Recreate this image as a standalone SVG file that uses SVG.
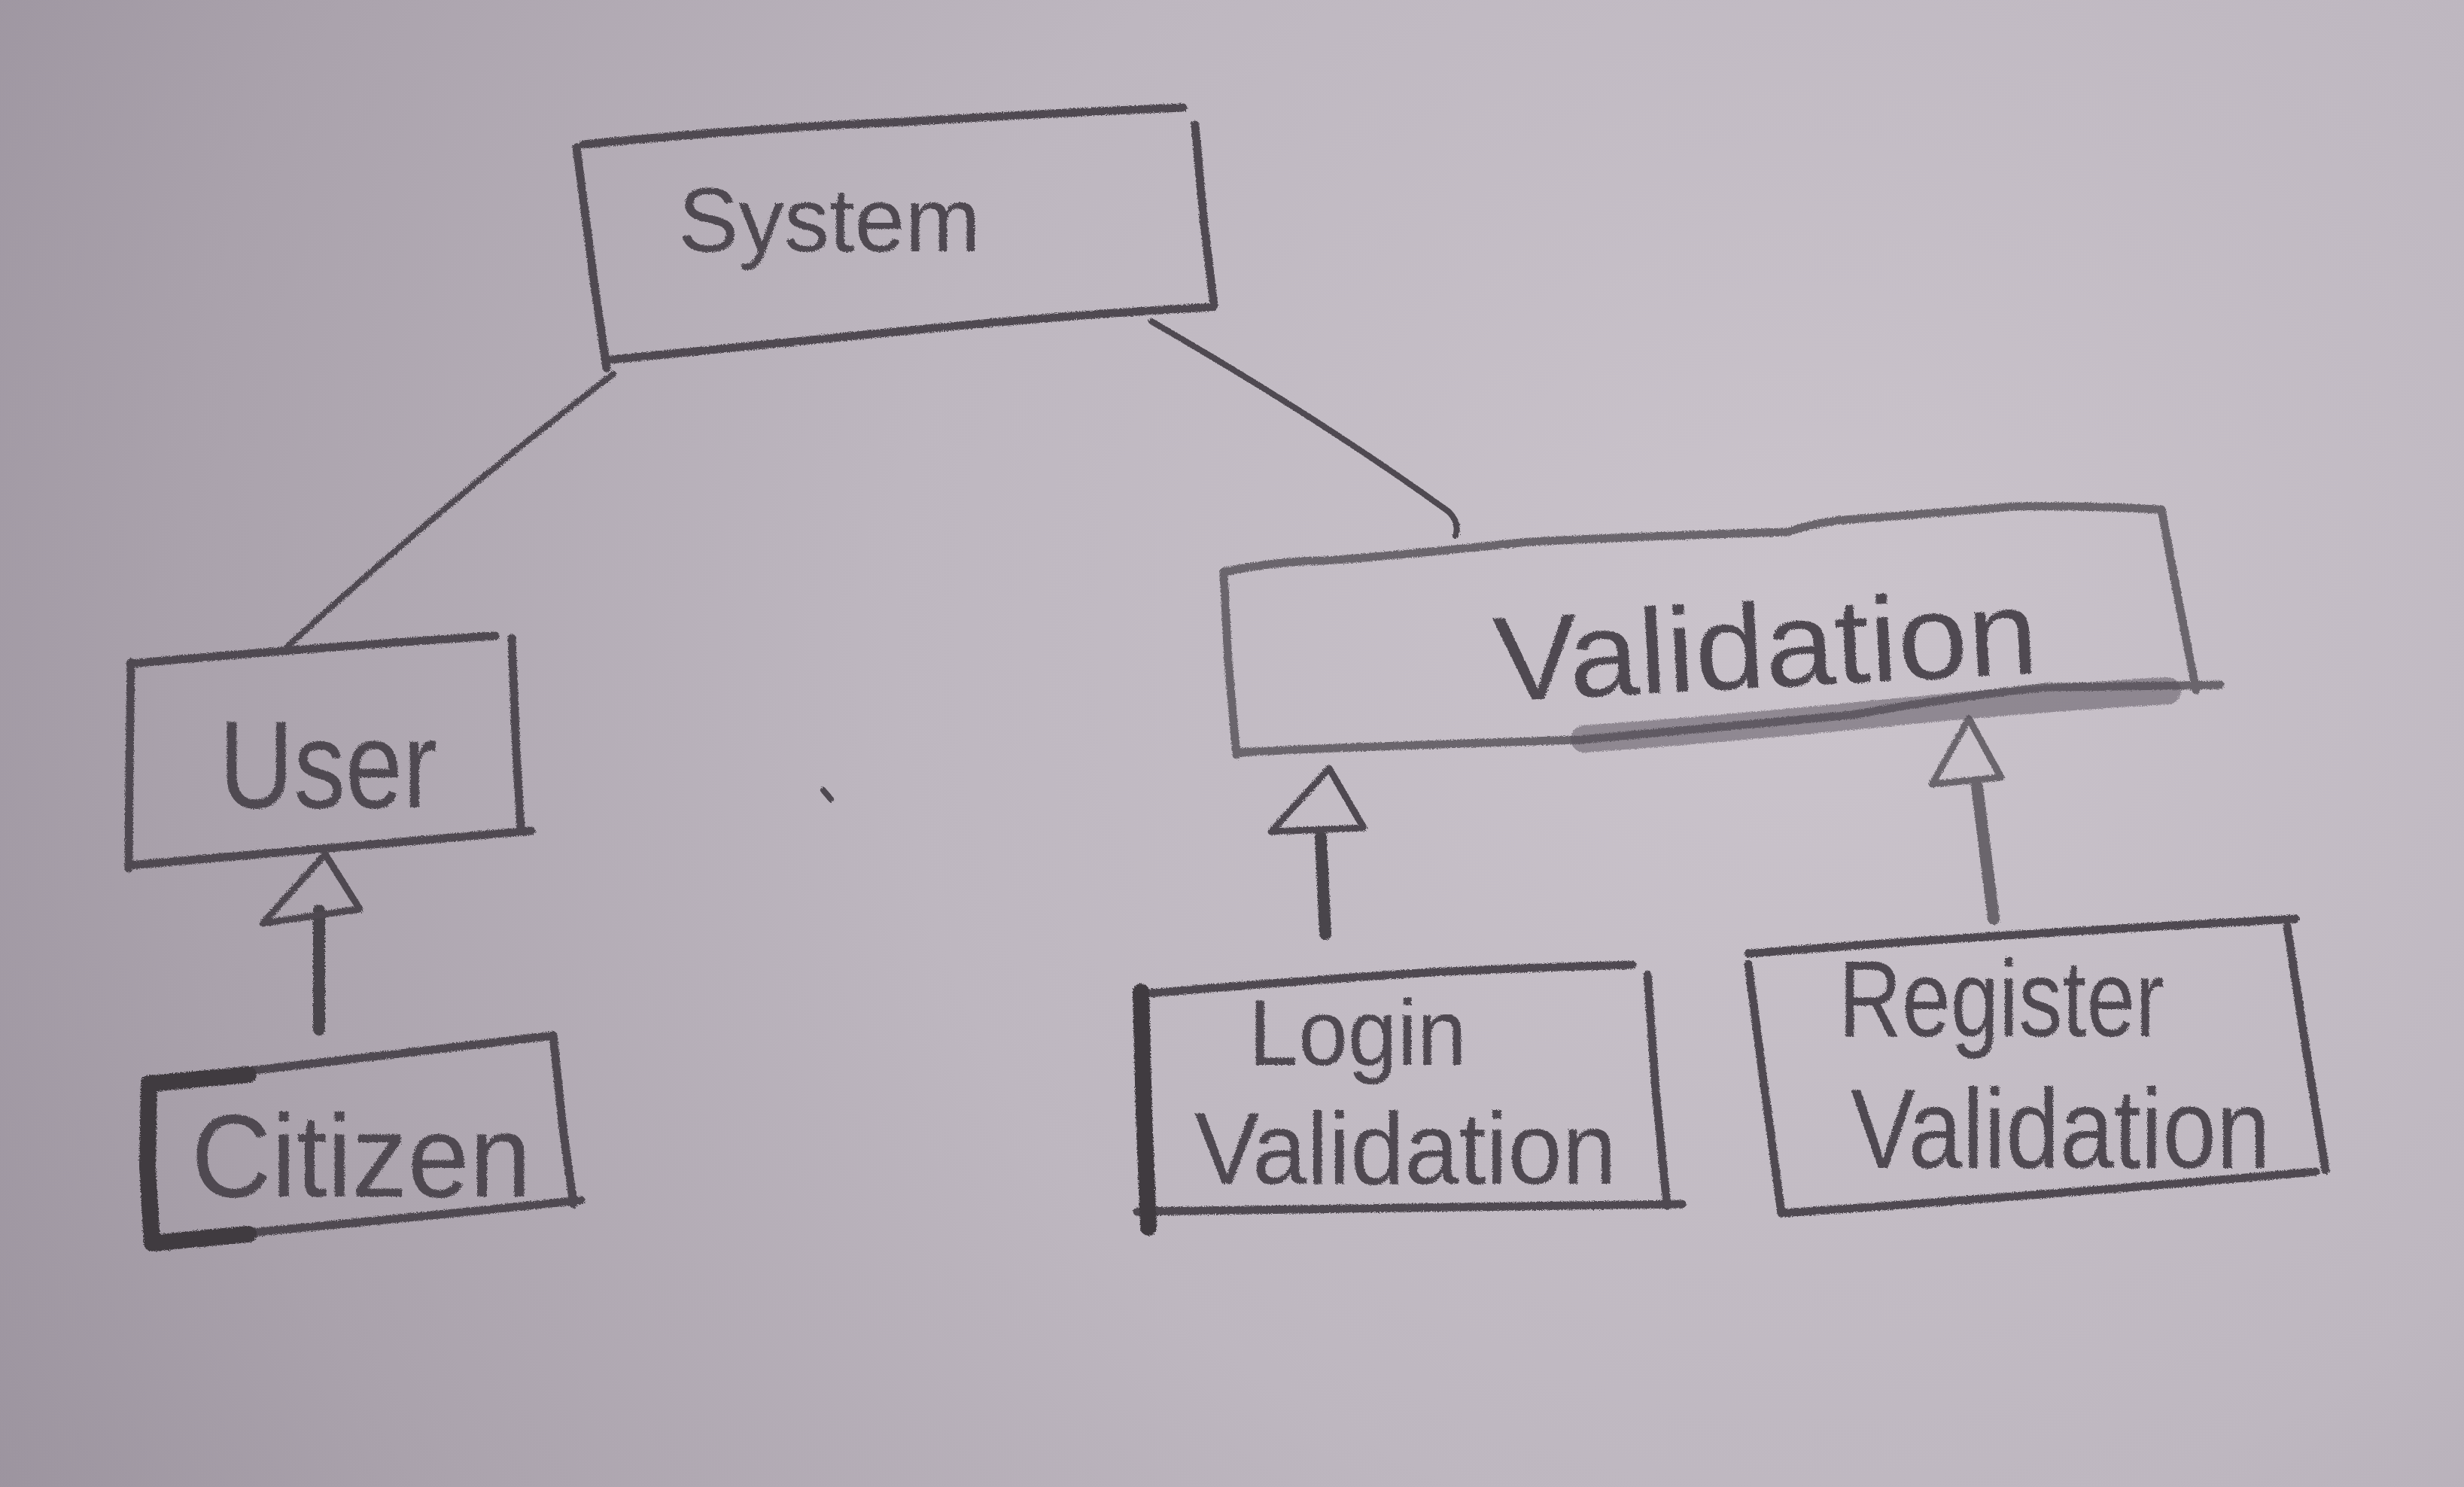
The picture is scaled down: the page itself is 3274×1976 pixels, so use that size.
<svg xmlns="http://www.w3.org/2000/svg" width="3274" height="1976" viewBox="0 0 3274 1976">
<defs>
<radialGradient id="paper" cx="2400" cy="850" r="2700" gradientUnits="userSpaceOnUse">
<stop offset="0" stop-color="#cbc4cc"/>
<stop offset="0.45" stop-color="#beb7c0"/>
<stop offset="0.8" stop-color="#aaa2ac"/>
<stop offset="1" stop-color="#9b939e"/>
</radialGradient>
<filter id="pencil" x="-5%" y="-5%" width="110%" height="110%">
<feTurbulence type="fractalNoise" baseFrequency="0.6" numOctaves="2" seed="3" result="n"/>
<feDisplacementMap in="SourceGraphic" in2="n" scale="5"/>
</filter>
</defs>
<style>
.edge{fill:none;stroke:#4f4a51;stroke-width:11;stroke-linecap:round;stroke-linejoin:round}
.thick{stroke-width:22;stroke:#3f3a41}
.conn{fill:none;stroke:#4f4a51;stroke-width:8;stroke-linecap:round;stroke-linejoin:round}
.shaft{fill:none;stroke:#4a454c;stroke-width:16;stroke-linecap:round}
.head{fill:none;stroke:#4f4a51;stroke-width:9;stroke-linejoin:round}
.lbl{font-family:"Liberation Sans","DejaVu Sans",sans-serif;fill:#4f4a51}
.faint{stroke:#6a656c}
</style>
<rect width="3274" height="1976" fill="url(#paper)"/>
<g id="connectors" filter="url(#pencil)">
<path class="conn" d="M815,497 Q600,660 382,859"/>
<path class="conn" d="M1530,427 Q1760,560 1925,680 Q1940,695 1934,712"/>
<path class="shaft" d="M424,1368 L424,1210"/>
<polygon class="head" points="432,1135 349,1227 478,1208"/>
<path class="shaft" d="M1761,1241 L1755,1112"/>
<polygon class="head" points="1766,1021 1689,1105 1812,1100"/>
<path class="shaft faint" d="M2649,1221 L2627,1045"/>
<polygon class="head faint" points="2616,955 2567,1042 2659,1033"/>
<path class="conn" d="M1094,1050 L1104,1062"/>
</g>
<g id="system" filter="url(#pencil)">
<path class="edge" d="M775,192 Q1000,170 1200,162 Q1400,150 1572,143"/>
<path class="edge" d="M1588,166 L1600,300 L1613,405"/>
<path class="edge" d="M812,478 Q1000,460 1200,440 Q1420,418 1612,408"/>
<path class="edge" d="M766,196 L790,380 L806,489"/>
<text class="lbl" x="901" y="334" font-size="120" textLength="402" lengthAdjust="spacingAndGlyphs">System</text>
</g>
<g id="user" filter="url(#pencil)">
<path class="edge" d="M173,882 Q420,860 658,845"/>
<path class="edge" d="M680,848 L686,1000 L692,1100"/>
<path class="edge" d="M171,1150 Q450,1125 706,1104"/>
<path class="edge" d="M174,880 L172,1020 L171,1154"/>
<text class="lbl" x="291" y="1073" font-size="165" textLength="290" lengthAdjust="spacingAndGlyphs">User</text>
</g>
<g id="citizen" filter="url(#pencil)">
<path class="edge" d="M196,1438 Q450,1410 735,1376"/>
<path class="edge" d="M735,1376 L748,1500 L762,1600"/>
<path class="edge" d="M200,1650 Q480,1625 772,1595"/>
<path class="edge thick" d="M198,1440 L196,1550 L202,1652 L330,1640"/>
<path class="edge thick" d="M198,1440 L330,1428"/>
<text class="lbl" x="254" y="1590" font-size="155" textLength="452" lengthAdjust="spacingAndGlyphs">Citizen</text>
</g>
<g id="validation" filter="url(#pencil)">
<path class="edge faint" d="M1626,760 Q1700,745 1760,745 Q1860,738 2031,720 Q2200,712 2375,707 Q2420,692 2461,690 Q2600,680 2677,673 Q2780,672 2866,677"/>
<path class="edge faint" d="M2872,677 L2895,800 L2918,917"/>
<path class="edge faint" d="M1643,1000 Q1800,992 2100,983 Q2300,965 2461,950 Q2600,925 2720,913 Q2850,912 2950,910"/>
<path class="edge faint" d="M1626,760 L1632,880 L1643,1003"/>
<path d="M2105,982 Q2300,968 2500,948 Q2700,928 2880,918" fill="none" stroke="#55505a" stroke-width="36" stroke-opacity="0.5" stroke-linecap="round"/>
<text class="lbl" x="1988" y="932" font-size="160" textLength="723" lengthAdjust="spacingAndGlyphs" fill="#625d64" transform="rotate(-3 1988 932)">Validation</text>
</g>
<g id="login-validation" filter="url(#pencil)">
<path class="edge" d="M1526,1320 Q1700,1305 1900,1292 Q2050,1285 2169,1282"/>
<path class="edge" d="M2189,1295 L2200,1450 L2215,1602"/>
<path class="edge" d="M1511,1610 Q1800,1605 2235,1600"/>
<path class="edge thick" d="M1516,1318 L1520,1480 L1526,1631"/>
<text class="lbl" x="1659" y="1415" font-size="125" textLength="290" lengthAdjust="spacingAndGlyphs">Login</text>
<text class="lbl" x="1587" y="1573" font-size="135" textLength="561" lengthAdjust="spacingAndGlyphs">Validation</text>
</g>
<g id="register-validation" filter="url(#pencil)">
<path class="edge" d="M2323,1267 Q2600,1245 3050,1221"/>
<path class="edge" d="M3039,1231 L3065,1400 L3090,1555"/>
<path class="edge" d="M2367,1612 Q2700,1590 3077,1557"/>
<path class="edge" d="M2323,1281 L2345,1450 L2367,1612"/>
<text class="lbl" x="2443" y="1377" font-size="145" textLength="433" lengthAdjust="spacingAndGlyphs" fill="#58535a">Register</text>
<text class="lbl" x="2459" y="1552" font-size="150" textLength="558" lengthAdjust="spacingAndGlyphs" fill="#58535a">Validation</text>
</g>
</svg>
